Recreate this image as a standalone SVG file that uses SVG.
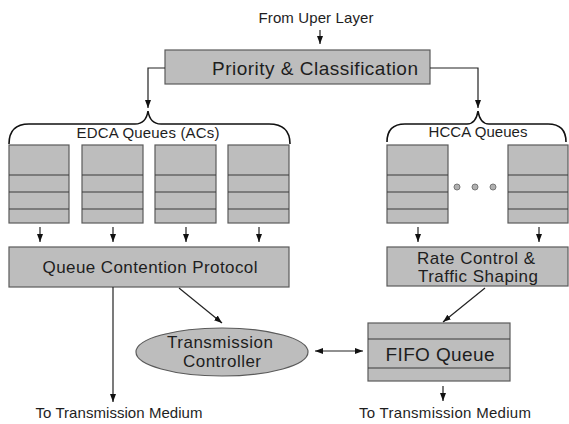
<svg xmlns="http://www.w3.org/2000/svg" width="569" height="424" viewBox="0 0 569 424">
  <style>
    .box { fill: #bdbdbd; stroke: #5a5a5a; stroke-width: 1.2; }
    .row { stroke: #3a3a3a; stroke-width: 1.2; fill: none; }
    .brace { fill: none; stroke: #111; stroke-width: 1.6; }
    .conn { fill: none; stroke: #222; stroke-width: 1.2; }
    .dot { fill: #b0b0b0; stroke: #777; stroke-width: 1; }
    text { font-family: "Liberation Sans", Arial, sans-serif; fill: #1e1e1e; text-anchor: middle; }
    .lbl { font-size: 15px; }
    .big { font-size: 19px; }
    .mid { font-size: 17px; }
  </style>
  <defs>
    <marker id="arrow" markerUnits="userSpaceOnUse" markerWidth="8" markerHeight="8" viewBox="0 0 8 8" refX="8" refY="4" orient="auto-start-reverse">
      <path d="M0,1 L8,4 L0,7 Z" fill="#111"/>
    </marker>
  </defs>

  <rect width="569" height="424" fill="#fff"/>

  <!-- source label -->
  <g id="source">
    <text class="lbl" x="316" y="23" textLength="115">From Uper Layer</text>
  </g>

  <!-- classifier -->
  <g id="priority">
    <rect class="box" x="165" y="50" width="265" height="34"/>
    <text class="big" x="315" y="75" textLength="206">Priority &amp; Classification</text>
  </g>

  <!-- EDCA access category queues -->
  <g id="edca-queues">
    <path class="brace" d="M9,144 Q9,124 29,124 L135,124 Q146,124 148,111 Q150,124 161,124 L269,124 Q290,124 290,144"/>
    <text class="lbl" x="148" y="138" textLength="143">EDCA Queues (ACs)</text>
    <g id="ac1">
      <rect class="box" x="9" y="145" width="60" height="78"/>
      <path class="row" d="M9,175 H69 M9,192 H69 M9,209 H69"/>
    </g>
    <g id="ac2">
      <rect class="box" x="82" y="145" width="61" height="78"/>
      <path class="row" d="M82,175 H143 M82,192 H143 M82,209 H143"/>
    </g>
    <g id="ac3">
      <rect class="box" x="155" y="145" width="61" height="78"/>
      <path class="row" d="M155,175 H216 M155,192 H216 M155,209 H216"/>
    </g>
    <g id="ac4">
      <rect class="box" x="228" y="145" width="61" height="78"/>
      <path class="row" d="M228,175 H289 M228,192 H289 M228,209 H289"/>
    </g>
  </g>

  <!-- HCCA queues -->
  <g id="hcca-queues">
    <path class="brace" d="M387,142 Q387,124 405,124 L467,124 Q476,124 478,111 Q480,124 489,124 L548,124 Q566,124 566,142"/>
    <text class="lbl" x="478" y="137" textLength="99">HCCA Queues</text>
    <g id="hq1">
      <rect class="box" x="387" y="145" width="61" height="78"/>
      <path class="row" d="M387,175 H448 M387,192 H448 M387,209 H448"/>
    </g>
    <circle class="dot" cx="457" cy="187" r="3"/>
    <circle class="dot" cx="475" cy="187" r="3"/>
    <circle class="dot" cx="493" cy="187" r="3"/>
    <g id="hqn">
      <rect class="box" x="508" y="145" width="60" height="78"/>
      <path class="row" d="M508,175 H568 M508,192 H568 M508,209 H568"/>
    </g>
  </g>

  <g id="contention">
    <rect class="box" x="9" y="247" width="280" height="40"/>
    <text class="mid" x="150" y="273" textLength="215">Queue Contention Protocol</text>
  </g>

  <g id="rate-control">
    <rect class="box" x="387" y="247" width="181" height="39"/>
    <text class="mid" x="476" y="264" textLength="118">Rate Control &amp;</text>
    <text class="mid" x="478" y="282" textLength="120">Traffic Shaping</text>
  </g>

  <g id="tx-controller">
    <ellipse class="box" cx="222" cy="352" rx="86" ry="24"/>
    <text class="mid" x="220" y="348" textLength="106">Transmission</text>
    <text class="mid" x="222" y="367" textLength="78">Controller</text>
  </g>

  <g id="fifo">
    <rect class="box" x="368" y="323" width="142" height="58"/>
    <path class="row" d="M368,339 H510 M368,368 H510"/>
    <text class="big" x="440" y="361" textLength="109">FIFO Queue</text>
  </g>

  <g id="medium-left">
    <text class="lbl" x="119" y="418" textLength="167">To Transmission Medium</text>
  </g>
  <g id="medium-right">
    <text class="lbl" x="445" y="418" textLength="172">To Transmission Medium</text>
  </g>

  <!-- connectors -->
  <g id="connectors">
    <path class="conn" d="M320,30 V44" marker-end="url(#arrow)" stroke-width="1.6"/>
    <path class="conn" d="M165,68 H148 V108" marker-end="url(#arrow)" stroke-width="1.6"/>
    <path class="conn" d="M430,68 H478 V108" marker-end="url(#arrow)" stroke-width="1.6"/>
    <path class="conn" d="M40,227 V242" marker-end="url(#arrow)"/>
    <path class="conn" d="M113,227 V242" marker-end="url(#arrow)"/>
    <path class="conn" d="M186,227 V242" marker-end="url(#arrow)"/>
    <path class="conn" d="M259,227 V242" marker-end="url(#arrow)"/>
    <path class="conn" d="M418,227 V242" marker-end="url(#arrow)"/>
    <path class="conn" d="M539,227 V242" marker-end="url(#arrow)"/>
    <path class="conn" d="M113,287 V402" marker-end="url(#arrow)"/>
    <path class="conn" d="M179,288 L222,323" marker-end="url(#arrow)"/>
    <path class="conn" d="M485,288 L443,322" marker-end="url(#arrow)"/>
    <path class="conn" d="M315,351 H363" marker-start="url(#arrow)" marker-end="url(#arrow)"/>
    <path class="conn" d="M443,386 V401" marker-end="url(#arrow)" stroke-width="1.6"/>
  </g>
</svg>
